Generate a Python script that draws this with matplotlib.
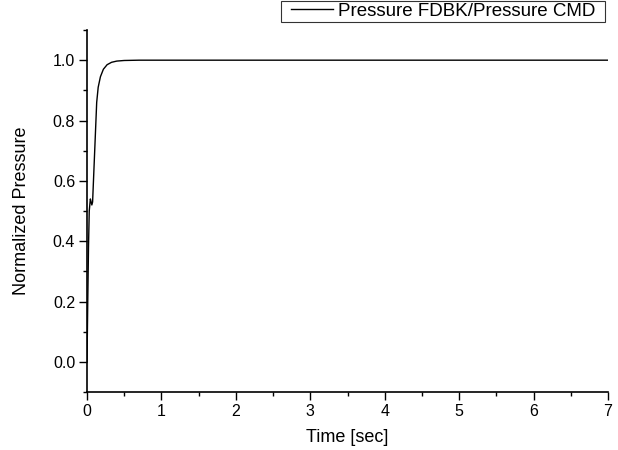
import numpy as np
import matplotlib
matplotlib.use("Agg")
import matplotlib.pyplot as plt
from matplotlib.path import Path
from matplotlib.ticker import MultipleLocator

plt.rcParams['font.family'] = ['Liberation Sans', 'DejaVu Sans']

# step response
time_sec = [0.0, 0.01, 0.02, 0.03, 0.045, 0.055, 0.065, 0.075, 0.09, 0.11,
            0.13, 0.15, 0.18, 0.22, 0.27, 0.33, 0.4, 0.5, 0.7, 1.0, 2.0, 7.0]
norm_pressure = [0.0, 0.2, 0.38, 0.5, 0.54, 0.53, 0.52, 0.53, 0.62, 0.74,
                 0.86, 0.91, 0.945, 0.97, 0.985, 0.993, 0.997, 0.999, 1.0, 1.0, 1.0, 1.0]


def wide_box(x0, y0, width, height, mutation_size):
    # legend frame: wider side padding than top/bottom
    px = 0.5 * mutation_size
    py = 0.05 * mutation_size
    x0, x1 = x0 - px, x0 + width + px
    y0, y1 = y0 - py, y0 + height + py
    return Path([(x0, y0), (x1, y0), (x1, y1), (x0, y1), (x0, y0)], closed=True)


fig = plt.figure(figsize=(6.18, 4.5), dpi=100)
ax = fig.add_axes([0.1408, 0.1289, 0.843, 0.8044])

line, = ax.plot(time_sec, norm_pressure, color='black', linewidth=1.0)

ax.set_xlim(0, 7)
ax.set_ylim(-0.1, 1.1)
ax.xaxis.set_major_locator(MultipleLocator(1))
ax.xaxis.set_minor_locator(MultipleLocator(0.5))
ax.yaxis.set_major_locator(MultipleLocator(0.2))
ax.yaxis.set_minor_locator(MultipleLocator(0.1))
ax.yaxis.set_major_formatter(plt.FormatStrFormatter('%.1f'))

for s in ['top', 'right']:
    ax.spines[s].set_visible(False)
for s in ['left', 'bottom']:
    ax.spines[s].set_linewidth(1.2)

ax.tick_params(which='major', direction='out', length=6, width=1.0,
               labelsize=11.5, pad=2.5)
ax.tick_params(which='minor', direction='out', length=3, width=1.0)

ax.set_xlabel('Time [sec]', fontsize=13)
ax.set_ylabel('Normalized Pressure', fontsize=13)
ax.xaxis.set_label_coords(0.5, -0.102)
ax.yaxis.set_label_coords(-0.109, 0.5)

leg = fig.legend([line], ['Pressure FDBK/Pressure CMD'], loc='upper right',
                 bbox_to_anchor=(0.9644, 0.9956), fontsize=13.5, frameon=True,
                 fancybox=False, edgecolor='black', handlelength=2.2,
                 handletextpad=0.27, borderpad=0.05, borderaxespad=0)
leg.get_frame().set_linewidth(0.8)
leg.get_frame().set_boxstyle(wide_box)

fig.savefig('out.png', dpi=100)
